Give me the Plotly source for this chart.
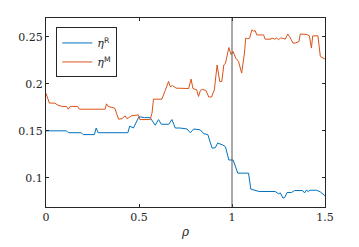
import plotly.graph_objects as go

rho_R = [0, 0.11, 0.12, 0.19, 0.2, 0.26, 0.27, 0.28, 0.44, 0.45, 0.47, 0.5, 0.53, 0.56, 0.587, 0.605, 0.62, 0.66,
         0.677, 0.695, 0.72, 0.758, 0.776, 0.794, 0.83, 0.848, 0.87, 0.893, 0.91, 0.923, 0.95, 0.965, 0.983, 1.006,
         1.031, 1.089, 1.101, 1.12, 1.146, 1.232, 1.25, 1.26, 1.274, 1.285, 1.296, 1.32, 1.337, 1.38, 1.39, 1.40,
         1.41, 1.42, 1.455, 1.475, 1.5]
eta_R = [0.150, 0.150, 0.148, 0.148, 0.146, 0.146, 0.153, 0.148, 0.148, 0.155, 0.153, 0.165, 0.164, 0.164, 0.156,
         0.162, 0.157, 0.157, 0.162, 0.153, 0.153, 0.152, 0.148, 0.152, 0.151, 0.147, 0.146, 0.1316, 0.132, 0.137,
         0.135, 0.133, 0.119, 0.119, 0.105, 0.105, 0.088, 0.087, 0.0855, 0.0855, 0.083, 0.084, 0.0784, 0.0795,
         0.0844, 0.0844, 0.0865, 0.0865, 0.084, 0.087, 0.0855, 0.0868, 0.0868, 0.085, 0.081]

rho_M = [0, 0.018, 0.048, 0.06, 0.087, 0.11, 0.12, 0.13, 0.17, 0.18, 0.318, 0.325, 0.335, 0.354, 0.37, 0.39, 0.41,
         0.425, 0.435, 0.445, 0.46, 0.497, 0.505, 0.56, 0.57, 0.578, 0.623, 0.641, 0.659, 0.668, 0.68, 0.70, 0.74,
         0.767, 0.78, 0.79, 0.81, 0.82, 0.83, 0.84, 0.86, 0.875, 0.89, 0.905, 0.92, 0.934, 0.945, 0.956, 0.965,
         0.983, 0.995, 1.006, 1.02, 1.035, 1.052, 1.067, 1.074, 1.085, 1.095, 1.107, 1.115, 1.125, 1.133, 1.17,
         1.178, 1.21, 1.214, 1.23, 1.24, 1.25, 1.26, 1.27, 1.286, 1.30, 1.31, 1.328, 1.34, 1.36, 1.367, 1.39,
         1.403, 1.416, 1.427, 1.434, 1.462, 1.475, 1.5]
eta_M = [0.190, 0.1795, 0.1795, 0.1777, 0.1759, 0.1759, 0.173, 0.176, 0.176, 0.173, 0.173, 0.1787, 0.176, 0.175,
         0.174, 0.1624, 0.163, 0.166, 0.163, 0.164, 0.166, 0.167, 0.162, 0.162, 0.169, 0.1837, 0.1837, 0.193,
         0.2025, 0.197, 0.198, 0.1954, 0.195, 0.195, 0.205, 0.195, 0.1936, 0.1865, 0.193, 0.194, 0.193, 0.186,
         0.186, 0.1936, 0.220, 0.2025, 0.2025, 0.220, 0.222, 0.2386, 0.231, 0.2344, 0.2273, 0.2238, 0.2114,
         0.2327, 0.2486, 0.248, 0.2486, 0.2574, 0.256, 0.2565, 0.252, 0.252, 0.2475, 0.2475, 0.2486, 0.2475,
         0.2486, 0.247, 0.2486, 0.2486, 0.2475, 0.253, 0.250, 0.2433, 0.2433, 0.245, 0.253, 0.253, 0.2525, 0.251,
         0.238, 0.251, 0.251, 0.229, 0.2263]

assert len(rho_R) == len(eta_R), (len(rho_R), len(eta_R))
assert len(rho_M) == len(eta_M), (len(rho_M), len(eta_M))

x_ticks = [0, 0.5, 1, 1.5]
x_ticklabels = ["0", "0.5", "1", "1.5"]
y_ticks = [0.1, 0.15, 0.2, 0.25]
y_ticklabels = ["0.1", "0.15", "0.2", "0.25"]
ref_rho = 1

SERIF = "DejaVu Serif"

fig = go.Figure()
fig.add_trace(go.Scatter(x=rho_R, y=eta_R, mode="lines",
                         line=dict(color="#0072BD", width=1),
                         name="<i>η</i><sup><span style='font-family:DejaVu Sans'>R</span></sup>"))
fig.add_trace(go.Scatter(x=rho_M, y=eta_M, mode="lines",
                         line=dict(color="#D95319", width=1),
                         name="<i>η</i><sup><span style='font-family:DejaVu Sans'>M</span></sup>"))

fig.add_shape(type="line", xref="x", yref="paper", x0=ref_rho, x1=ref_rho, y0=0, y1=1,
              line=dict(color="#555555", width=1))

axis_common = dict(showgrid=False, zeroline=False, showline=True, linecolor="#262626", linewidth=1,
                   mirror="ticks", ticks="inside", ticklen=3, tickcolor="#262626", automargin=False,
                   tickfont=dict(family=SERIF, size=11, color="#262626"))

# page body has an 8px default margin; compensate so the plot area lands where the reference has it
fig.update_layout(
    width=359, height=247,
    margin=dict(l=38, r=42, t=10, b=48),
    paper_bgcolor="white", plot_bgcolor="white",
    showlegend=True,
    legend=dict(x=0.037, y=0.95, xanchor="left", yanchor="top",
                bgcolor="white", bordercolor="#262626", borderwidth=1,
                font=dict(family=SERIF, size=11, color="#262626"),
                tracegroupgap=0, itemwidth=30),
    xaxis=dict(range=[0, 1.5], tickvals=x_ticks, ticktext=x_ticklabels,
               title=dict(text="<i>ρ</i>", font=dict(family=SERIF, size=12, color="#262626"), standoff=4),
               **axis_common),
    yaxis=dict(range=[0.069, 0.270], tickvals=y_ticks, ticktext=y_ticklabels, **axis_common),
)

fig.write_html("out.html")
